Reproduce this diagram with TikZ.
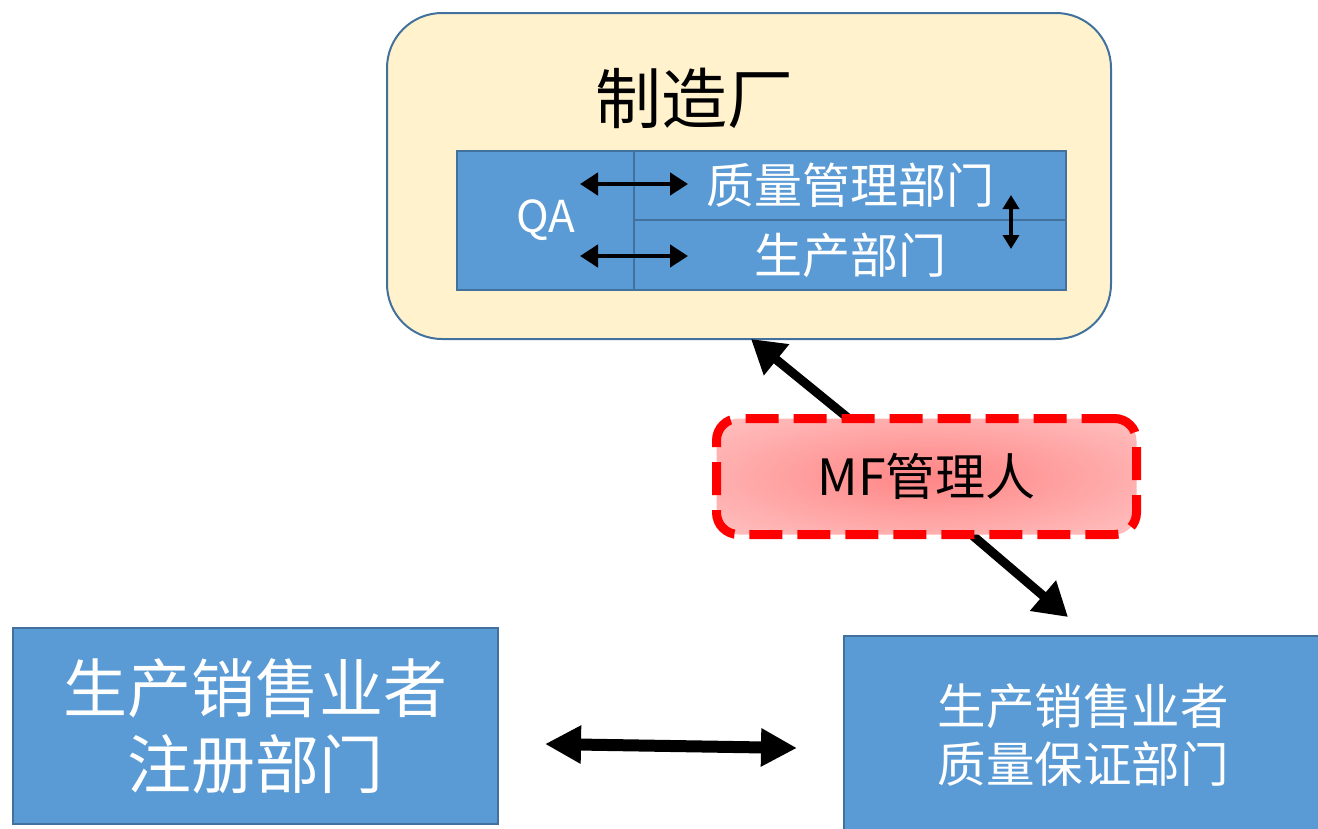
\documentclass[tikz,border=0pt]{standalone}
\usepackage{fontspec}
\setmainfont{Noto Sans CJK SC}
\usetikzlibrary{arrows.meta}
\definecolor{boxblue}{HTML}{5B9BD5}
\definecolor{edgeblue}{HTML}{41719C}
\definecolor{paleyellow}{HTML}{FFF2CC}
\definecolor{mfin}{HTML}{FF8585}
\definecolor{mfout}{HTML}{FFD9D9}
\pgfdeclareradialshading{mfglow}{\pgfpoint{0bp}{0bp}}{color(0bp)=(mfin); color(50bp)=(mfout)}
\begin{document}
\begin{tikzpicture}[x=1pt,y=-1pt,
  cell/.style={draw=edgeblue, fill=boxblue, line width=2pt, inner sep=0pt, text=white, anchor=north west},
  smallarrow/.style={{Triangle[length=18pt,width=22pt]}-{Triangle[length=18pt,width=22pt]}, line width=4.5pt},
  vertarrow/.style={{Triangle[length=14pt,width=16pt]}-{Triangle[length=14pt,width=16pt]}, line width=3.5pt},
  mfarrow/.style={-{Triangle[length=33pt,width=38pt]}, line width=9pt},
  bigarrow/.style={{Triangle[length=36pt,width=36pt]}-{Triangle[length=36pt,width=36pt]}, line width=12pt}]
\useasboundingbox (0,0) rectangle (1318,828);
% factory
\node[draw=edgeblue, fill=paleyellow, line width=2pt, rounded corners=55pt,
      minimum width=724pt, minimum height=326pt, anchor=north west] (factory) at (386,12) {};
\node[font=\fontsize{66}{66}\selectfont] (title) at (694,98) {制造厂};
\node[cell, minimum width=177pt, minimum height=139pt, font=\fontsize{44}{44}\selectfont] (qa) at (456,150) {QA};
\node[cell, minimum width=432pt, minimum height=69pt, font=\fontsize{48}{48}\selectfont] (qm) at (633,150) {质量管理部门};
\node[cell, minimum width=432pt, minimum height=70pt, font=\fontsize{48}{48}\selectfont] (prod) at (633,219) {生产部门};
\coordinate (qa1) at (580,184);
\coordinate (qm1) at (688,184);
\coordinate (qa2) at (580,256);
\coordinate (pr1) at (688,256);
\coordinate (v1) at (1011,195);
\coordinate (v2) at (1011,249);
\draw[smallarrow] (qa1) -- (qm1);
\draw[smallarrow] (qa2) -- (pr1);
\draw[vertarrow] (v1) -- (v2);
% MF arrows
\coordinate (mfa) at (848,418);
\coordinate (fb) at (751,339);
\coordinate (mfb) at (972,535);
\coordinate (qd) at (1068,617);
\draw[mfarrow] (mfa) -- (fb);
\draw[mfarrow] (mfb) -- (qd);
% MF node
\node[shade, shading=mfglow, draw=red, line width=9pt, dash pattern=on 33pt off 15pt,
      rounded corners=22pt, minimum width=420pt, minimum height=116pt, inner sep=0pt,
      font=\fontsize{50}{50}\selectfont] (mf) at (926.5,476.5) {MF管理人};
% bottom boxes
\node[cell, minimum width=485pt, minimum height=196pt, align=center,
      font=\fontsize{64}{76}\selectfont] (reg) at (12,627) {生产销售业者\\注册部门};
\node[cell, minimum width=478pt, minimum height=198pt, align=center,
      font=\fontsize{48.5}{58}\selectfont] (qad) at (843,635) {生产销售业者\\质量保证部门};
\coordinate (ra) at (545,744);
\coordinate (qb) at (797,748);
\draw[bigarrow] (ra) -- (qb);
\end{tikzpicture}
\end{document}
